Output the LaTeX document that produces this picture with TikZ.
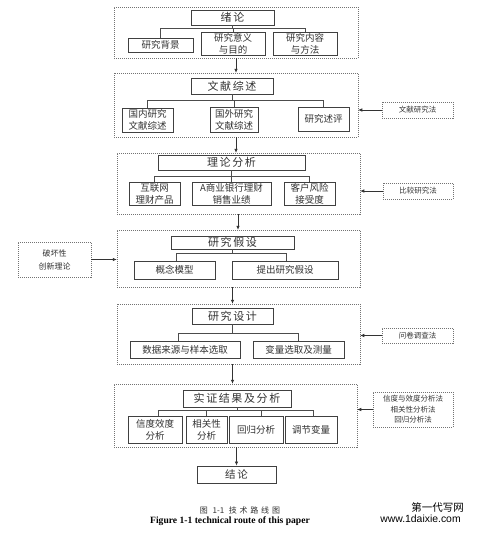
\documentclass[tikz,border=0pt]{standalone}
\usepackage{fontspec}
\setmainfont{Noto Sans CJK SC}
\newfontfamily\cjk{Noto Sans CJK SC}
\newfontfamily\enser{Liberation Serif}
\newfontfamily\ensan{Liberation Sans}
\usetikzlibrary{arrows.meta}
\newcommand\gapx{\hspace{1.6pt}}
\newcommand\gapc{\hspace{2.8pt}}
\tikzset{
  sect/.style={draw=black!55, line width=0.5pt, dash pattern=on 1pt off 1pt, rectangle, inner sep=0pt},
  tbox/.style={draw=black!75, line width=0.9pt, rectangle, inner sep=0pt, text=black!80, font=\cjk\fontsize{11}{13}\selectfont},
  cbox/.style={draw=black!75, line width=0.9pt, rectangle, inner sep=0pt, align=center, text=black!80, font=\cjk\fontsize{9.5}{12}\selectfont},
  mbox/.style={draw=black!55, line width=0.5pt, dash pattern=on 1pt off 1pt, rectangle, inner sep=0pt, align=center, text=black!80, font=\cjk\fontsize{7.5}{11}\selectfont},
  link/.style={draw=black!70, line width=0.6pt},
  arr/.style={draw=black!80, line width=0.6pt, -{Latex[length=4pt,width=3.5pt]}},
}
\begin{document}
\begin{tikzpicture}[x=1pt,y=-1pt]
\useasboundingbox (0,0) rectangle (481,546);
\fill[white] (0,0) rectangle (481,546);
% Section 1
\node[sect, minimum width=244pt, minimum height=51pt] (d1) at (236,32.5) {};
\node[tbox, minimum width=83pt, minimum height=15pt] (t1) at (232.5,17.5) {绪\gapx 论};
\node[cbox, minimum width=65pt, minimum height=14pt] (c11) at (160.5,45) {研究背景};
\node[cbox, minimum width=64pt, minimum height=23pt] (c12) at (233,43.5) {研究意义\\与目的};
\node[cbox, minimum width=64pt, minimum height=23pt] (c13) at (305,43.5) {研究内容\\与方法};
\coordinate (h1) at (0,28);
\draw[link] (c11.north) -- (c11.north |- h1) -- (c13.north |- h1) -- (c13.north);
\draw[link] (t1.south) -- (t1.south |- h1);
\draw[link] (c12.north) -- (c12.north |- h1);
% Section 2
\node[sect, minimum width=244pt, minimum height=64pt] (d2) at (236,105) {};
\node[tbox, minimum width=82pt, minimum height=16pt] (t2) at (232,86) {文\gapx 献\gapx 综\gapx 述};
\node[cbox, minimum width=51pt, minimum height=24pt] (c21) at (147.5,120) {国内研究\\文献综述};
\node[cbox, minimum width=48pt, minimum height=25pt] (c22) at (234,119.5) {国外研究\\文献综述};
\node[cbox, minimum width=51pt, minimum height=24pt] (c23) at (323.5,119) {研究述评};
\coordinate (h2) at (0,100);
\draw[link] (c21.north) -- (c21.north |- h2) -- (c23.north |- h2) -- (c23.north);
\draw[link] (t2.south) -- (t2.south |- h2);
\draw[link] (c22.north) -- (c22.north |- h2);
\node[mbox, minimum width=71pt, minimum height=16pt] (m2) at (417.5,110) {文献研究法};
\draw[arr] (m2.west) -- (m2.west -| d2.east);
% Section 3
\node[sect, minimum width=243pt, minimum height=61pt] (d3) at (238.5,183.5) {};
\node[tbox, minimum width=147pt, minimum height=15pt] (t3) at (231.5,162.5) {理\gapx 论\gapx 分\gapx 析};
\node[cbox, minimum width=51pt, minimum height=23pt] (c31) at (154.5,193.5) {互联网\\理财产品};
\node[cbox, minimum width=79pt, minimum height=23pt] (c32) at (231.5,193.5) {A商业银行理财\\销售业绩};
\node[cbox, minimum width=51pt, minimum height=23pt] (c33) at (309.5,193.5) {客户风险\\接受度};
\coordinate (h3) at (0,176);
\draw[link] (c31.north) -- (c31.north |- h3) -- (c33.north |- h3) -- (c33.north);
\draw[link] (t3.south) -- (t3.south |- h3);
\draw[link] (c32.north) -- (c32.north |- h3);
\node[mbox, minimum width=70pt, minimum height=16pt] (m3) at (418,191) {比较研究法};
\draw[arr] (m3.west) -- (m3.west -| d3.east);
% Section 4
\node[sect, minimum width=243pt, minimum height=57pt] (d4) at (238.5,258.5) {};
\node[tbox, minimum width=123pt, minimum height=13pt] (t4) at (232.5,242.5) {研\gapx 究\gapx 假\gapx 设};
\node[cbox, minimum width=81pt, minimum height=18pt] (c41) at (174.5,270) {概念模型};
\node[cbox, minimum width=106pt, minimum height=18pt] (c42) at (285,270) {提出研究假设};
\coordinate (h4) at (0,253);
\draw[link] ([xshift=1.5pt]c41.north) -- ([xshift=1.5pt]c41.north |- h4) -- ([xshift=1pt]c42.north |- h4) -- ([xshift=1pt]c42.north);
\draw[link] (t4.south) -- (t4.south |- h4);
\node[mbox, minimum width=73pt, minimum height=35pt, font=\cjk\fontsize{8}{13}\selectfont] (m4) at (54.5,259.5) {破坏性\\创新理论};
\draw[arr] (m4.east) -- (m4.east -| d4.west);
% Section 5
\node[sect, minimum width=243pt, minimum height=60pt] (d5) at (238.5,334) {};
\node[tbox, minimum width=81pt, minimum height=16pt] (t5) at (232.5,316) {研\gapx 究\gapx 设\gapx 计};
\node[cbox, minimum width=110pt, minimum height=17pt] (c51) at (185,349.5) {数据来源与样本选取};
\node[cbox, minimum width=91pt, minimum height=17pt] (c52) at (298.5,349.5) {变量选取及测量};
\coordinate (h5) at (0,333);
\draw[link] ([xshift=-7pt]c51.north) -- ([xshift=-7pt]c51.north |- h5) -- (c52.north |- h5) -- (c52.north);
\draw[link] (t5.south) -- (t5.south |- h5);
\node[mbox, minimum width=71pt, minimum height=15pt] (m5) at (417.5,335.5) {问卷调查法};
\draw[arr] (m5.west) -- (m5.west -| d5.east);
% Section 6
\node[sect, minimum width=243pt, minimum height=63pt] (d6) at (235.5,415.5) {};
\node[tbox, minimum width=108pt, minimum height=17pt] (t6) at (237,398.5) {实\gapx 证\gapx 结\gapx 果\gapx 及\gapx 分\gapx 析};
\node[cbox, minimum width=54pt, minimum height=27pt] (c61) at (155,429.5) {信度效度\\分析};
\node[cbox, minimum width=41pt, minimum height=27pt] (c62) at (206.5,429.5) {相关性\\分析};
\node[cbox, minimum width=54pt, minimum height=27pt] (c63) at (256,429.5) {回归分析};
\node[cbox, minimum width=52pt, minimum height=27pt] (c64) at (311,429.5) {调节变量};
\coordinate (h6) at (0,410.5);
\draw[link] ([xshift=3pt]c61.north) -- ([xshift=3pt]c61.north |- h6) -- ([xshift=2pt]c64.north |- h6) -- ([xshift=2pt]c64.north);
\draw[link] (t6.south) -- (t6.south |- h6);
\draw[link] (c62.north) -- (c62.north |- h6);
\draw[link] ([xshift=5pt]c63.north) -- ([xshift=5pt]c63.north |- h6);
\node[mbox, minimum width=80pt, minimum height=35pt, font=\cjk\fontsize{7.5}{10.5}\selectfont] (m6) at (413,409.5) {信度与效度分析法\\相关性分析法\\回归分析法};
\draw[arr] (m6.west) -- (m6.west -| d6.east);
% Conclusion
\node[tbox, minimum width=79pt, minimum height=17pt, font=\cjk\fontsize{10.5}{12}\selectfont] (end) at (236.5,474.5) {结\gapx 论};
% Main arrows
\draw[arr] (d1.south) -- (d2.north);
\draw[arr] (d2.south) -- (d2.south |- d3.north);
\draw[arr] ([xshift=-0.5pt]d3.south) -- ([xshift=-0.5pt]d3.south |- d4.north);
\draw[arr] (t5.north |- d4.south) -- (t5.north |- d5.north);
\draw[arr] (t5.north |- d5.south) -- (t5.north |- d6.north);
\draw[arr] (d6.south -| end.north) -- (end.north);
% Captions
\node[inner sep=0pt, text=black!80, font=\cjk\fontsize{8}{10}\selectfont] (cap1) at (240,510) {图\gapc\ 1-1\gapc\ 技\gapc 术\gapc 路\gapc 线\gapc 图};
\node[inner sep=0pt, text=black, font=\enser\bfseries\fontsize{9.6}{11}\selectfont] (cap2) at (230,521.5) {Figure 1-1 technical route of this paper};
% Watermark
\node[inner sep=0pt, text=black, font=\cjk\fontsize{10.5}{12}\selectfont] (wm1) at (437.5,507) {第一代写网};
\node[inner sep=0pt, text=black, font=\ensan\fontsize{10.4}{12}\selectfont] (wm2) at (420.5,519) {www.1daixie.com};
\end{tikzpicture}
\end{document}
